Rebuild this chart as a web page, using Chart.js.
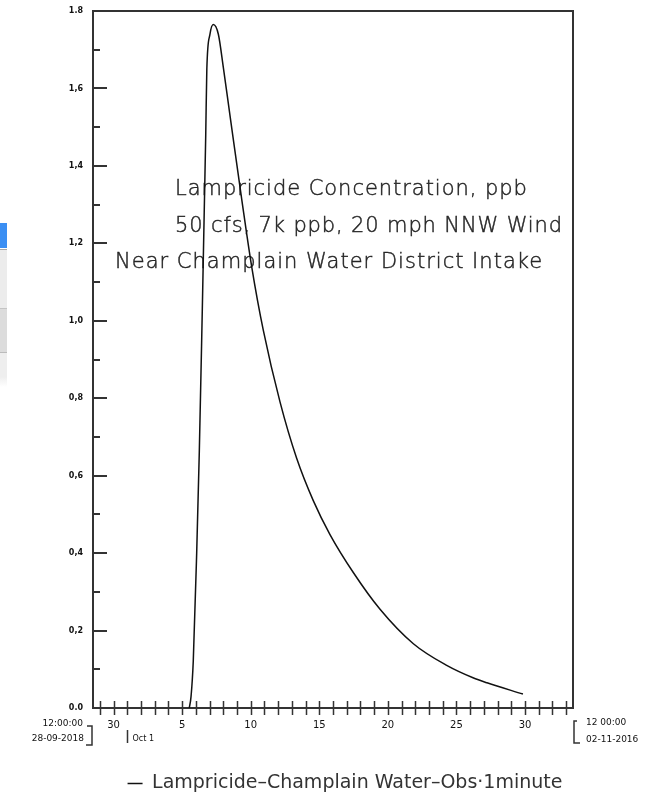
<!DOCTYPE html>
<html>
<head>
<meta charset="utf-8">
<script src="https://cdn.jsdelivr.net/npm/chart.js@4.4.1/dist/chart.umd.min.js"></script>
<style>
  html, body { margin: 0; padding: 0; background: #fff; }
  #marco { position: absolute; left: 0; top: 0; width: 666px; height: 803px; }
  .borde { position: absolute; left: 0; width: 7px; }
</style>
</head>
<body>
<!-- bits of another window peeking in at the left edge -->
<div class="borde" style="top:223px;height:25px;background:#3b8ff3"></div>
<div class="borde" style="top:249px;height:59px;background:#ececec;border-top:1px solid #a8a8a8"></div>
<div class="borde" style="top:308px;height:44px;background:#dcdcdc;border-top:1px solid #c4c4c4"></div>
<div class="borde" style="top:352px;height:34px;background:linear-gradient(#eee,#eee 70%,#fff);border-top:1px solid #bbb"></div>

<div id="marco"><canvas id="grafico"></canvas></div>

<script>
// time in days from 28-09-2018 12:00:00, concentration in ppb
const tiempoDias = [7.02, 7.15, 7.31, 7.56, 7.75, 7.93, 8.22, 8.30, 8.53, 8.77, 9.14, 9.50, 9.99,
  10.84, 11.57, 12.42, 13.64, 14.85, 16.07, 17.28, 18.98, 20.93, 23.36, 25.79, 27.71, 28.73, 31.35];
const concentracion = [0, 0.03, 0.12, 0.40, 0.66, 0.96, 1.48, 1.65, 1.74, 1.765, 1.74, 1.655, 1.53,
  1.315, 1.14, 0.975, 0.79, 0.645, 0.535, 0.448, 0.350, 0.255, 0.166, 0.110, 0.078, 0.065, 0.036];

const serieNombre = 'Lampricide\u2013Champlain Water\u2013Obs\u00b71minute';

const yValores = [0, 0.2, 0.4, 0.6, 0.8, 1.0, 1.2, 1.4, 1.6, 1.8];
const yTextos = ['0.0', '0,2', '0,4', '0,6', '0,8', '1,0', '1,2', '1,4', '1,6', '1.8'];
const yMenores = [0.1, 0.3, 0.5, 0.7, 0.9, 1.1, 1.3, 1.5, 1.7];

// day labels sit on midnight of each day
const diaValores = [1.5, 6.5, 11.5, 16.5, 21.5, 26.5, 31.5];
const diaTextos = ['30', '5', '10', '15', '20', '25', '30'];
const mesValor = 2.5;
const mesTexto = 'Oct 1';

const inicioTextos = ['12:00:00', '28-09-2018'];
const finTextos = ['12 00:00', '02-11-2016'];
const xMax = 35;

const notas = [
  { texto: 'Lampricide Concentration, ppb', x: 175, y: 195, ancho: 352 },
  { texto: '50 cfs, 7k ppb, 20 mph NNW Wind', x: 175, y: 232, ancho: 387 },
  { texto: 'Near Champlain Water District Intake', x: 115, y: 268, ancho: 427 }
];

const tinta = '#262626';
const fuente = '"DejaVu Sans", sans-serif';

// text lines inside the plot, spaced out like the plotter font
const notasPlugin = {
  id: 'notas',
  beforeDatasetsDraw(chart) {
    const ctx = chart.ctx;
    ctx.save();
    ctx.fillStyle = tinta;
    ctx.strokeStyle = tinta;
    ctx.lineWidth = 0.45;
    ctx.font = '200 21px ' + fuente;
    ctx.textBaseline = 'alphabetic';
    notas.forEach(n => {
      ctx.letterSpacing = '0px';
      const w = ctx.measureText(n.texto).width;
      const extra = (n.ancho - w) / (n.texto.length - 1);
      ctx.letterSpacing = extra.toFixed(2) + 'px';
      ctx.fillText(n.texto, n.x, n.y);
      ctx.strokeText(n.texto, n.x, n.y);
    });
    ctx.restore();
  }
};

// box, inner tick marks and the date captions below the time axis
const ejesPlugin = {
  id: 'ejes',
  afterLayout(chart) {
    chart.legend.left += 12;
    chart.legend.right += 12;
  },
  afterDraw(chart) {
    const { ctx, chartArea: a, scales: { x, y } } = chart;
    ctx.save();
    ctx.strokeStyle = '#333';
    ctx.lineWidth = 2;

    ctx.beginPath();
    ctx.moveTo(a.left, a.top);
    ctx.lineTo(a.right, a.top);
    ctx.lineTo(a.right, a.bottom);
    ctx.stroke();

    ctx.beginPath();
    yValores.forEach(v => {
      const py = Math.round(y.getPixelForValue(v));
      ctx.moveTo(a.left, py);
      ctx.lineTo(a.left + 14, py);
    });
    yMenores.forEach(v => {
      const py = Math.round(y.getPixelForValue(v));
      ctx.moveTo(a.left, py);
      ctx.lineTo(a.left + 7, py);
    });
    ctx.stroke();

    ctx.lineWidth = 1.5;
    ctx.beginPath();
    for (let d = 0.5; d < xMax; d++) {
      const px = Math.round(x.getPixelForValue(d)) + 0.5;
      ctx.moveTo(px, a.bottom - 7);
      ctx.lineTo(px, a.bottom + 7);
    }
    // month marker
    const pm = Math.round(x.getPixelForValue(mesValor)) + 0.5;
    ctx.moveTo(pm, a.bottom + 22);
    ctx.lineTo(pm, a.bottom + 35);
    // start bracket
    ctx.moveTo(a.left - 6, a.bottom + 18);
    ctx.lineTo(a.left - 1, a.bottom + 18);
    ctx.lineTo(a.left - 1, a.bottom + 37);
    ctx.lineTo(a.left - 7, a.bottom + 37);
    // end bracket
    ctx.moveTo(a.right + 4, a.bottom + 13);
    ctx.lineTo(a.right + 1, a.bottom + 13);
    ctx.lineTo(a.right + 1, a.bottom + 35);
    ctx.lineTo(a.right + 7, a.bottom + 35);
    ctx.stroke();

    ctx.fillStyle = '#111';
    ctx.textBaseline = 'middle';
    ctx.font = '9px ' + fuente;
    ctx.textAlign = 'right';
    ctx.fillText(inicioTextos[0], a.left - 10, a.bottom + 16);
    ctx.fillText(inicioTextos[1], a.left - 9, a.bottom + 31);
    ctx.textAlign = 'left';
    ctx.fillText(finTextos[0], a.right + 13, a.bottom + 15);
    ctx.fillText(finTextos[1], a.right + 13, a.bottom + 32);
    ctx.font = '8px ' + fuente;
    ctx.fillText(mesTexto, pm + 5, a.bottom + 31);
    ctx.restore();
  }
};

function graficar() {
  const ctx = document.getElementById('grafico').getContext('2d');
  const puntos = tiempoDias.map((t, i) => ({ x: t, y: concentracion[i] }));

  return new Chart(ctx, {
    type: 'line',
    data: {
      datasets: [{
        label: serieNombre,
        data: puntos,
        borderColor: '#111',
        backgroundColor: '#111',
        borderWidth: 1.5,
        pointRadius: 0,
        fill: false,
        cubicInterpolationMode: 'monotone'
      }]
    },
    options: {
      responsive: true,
      maintainAspectRatio: false,
      animation: false,
      layout: { padding: { left: 0, top: 11, right: 93, bottom: 0 } },
      plugins: {
        tooltip: { enabled: false },
        legend: {
          position: 'bottom',
          fullSize: false,
          labels: {
            usePointStyle: true,
            pointStyle: 'line',
            pointStyleWidth: 15,
            color: '#333',
            padding: 10,
            font: { family: fuente, size: 19 }
          }
        }
      },
      scales: {
        x: {
          type: 'linear',
          min: 0,
          max: xMax,
          grid: { display: false, drawTicks: false },
          border: { display: true, color: '#333', width: 2 },
          afterBuildTicks: s => { s.ticks = diaValores.map(v => ({ value: v })); },
          afterFit: s => { s.height = 56; },
          ticks: {
            autoSkip: false,
            maxRotation: 0,
            padding: 11,
            color: '#111',
            font: { family: fuente, size: 10 },
            callback: (v, i) => diaTextos[i]
          }
        },
        y: {
          min: 0,
          max: 1.8,
          grid: { display: false, drawTicks: false },
          border: { display: true, color: '#333', width: 2 },
          afterBuildTicks: s => { s.ticks = yValores.map(v => ({ value: v })); },
          afterFit: s => { s.width = 93; s.paddingTop = 0; s.paddingBottom = 0; },
          ticks: {
            padding: 10,
            color: '#111',
            font: { family: fuente, size: 8, weight: 'bold' },
            callback: (v, i) => yTextos[i]
          }
        }
      }
    },
    plugins: [notasPlugin, ejesPlugin]
  });
}

graficar();
</script>
</body>
</html>
